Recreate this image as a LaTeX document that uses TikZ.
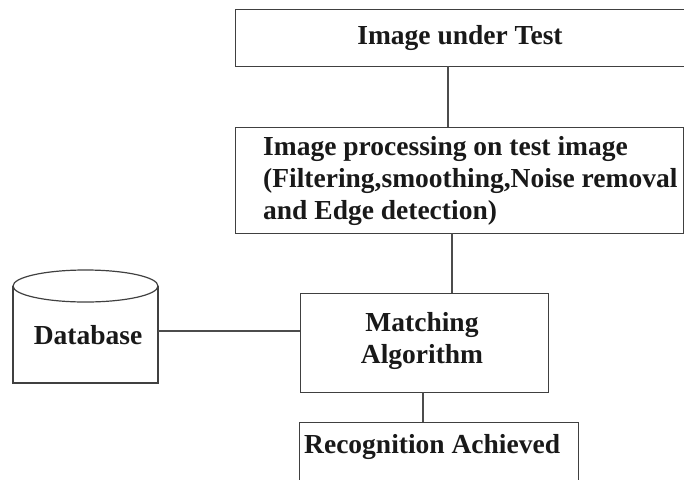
\documentclass[tikz,border=0pt]{standalone}
\usepackage{fontspec}
\setmainfont{Liberation Serif}
\begin{document}
\begin{tikzpicture}[x=1pt,y=-1pt,
  box/.style={draw=black!75,line width=1.2pt,rectangle,inner sep=0pt,anchor=north west},
  lbl/.style={font=\fontsize{27.5}{32}\selectfont\bfseries,text=black!90,inner sep=0pt},
  conn/.style={draw=black!70,line width=1.2pt}]
\useasboundingbox (0,0) rectangle (684,479);
\clip (0,0) rectangle (684,479);
% boxes
\node[box,minimum width=452pt,minimum height=57pt] (top) at (235,9) {};
\node[lbl] (toptxt) at (460,38) {Image under Test};
\node[box,minimum width=448pt,minimum height=106pt] (proc) at (235,127) {};
\node[lbl,anchor=west,align=left] (proctxt) at (263,181) {Image processing on test image\\(Filtering,smoothing,Noise removal\\and Edge detection)};
\node[box,minimum width=248pt,minimum height=99pt] (match) at (300,293) {};
\node[lbl,align=center] (matchtxt) at (422,341) {Matching\\Algorithm};
\node[box,minimum width=279pt,minimum height=80pt] (rec) at (299,422) {};
\node[lbl,anchor=west] (rectxt) at (304,447) {Recognition Achieved};
% database cylinder
\draw[draw=black!75,line width=1.2pt] (13,286) -- (13,383) -- (158,383) -- (158,286);
\draw[draw=black!75,line width=1.2pt] (85.5,286) ellipse [x radius=72.5, y radius=16];
\node[inner sep=0pt,minimum width=145pt,minimum height=80pt] (db) at (85.5,334) {};
\node[lbl] (dbtxt) at (88,335) {Database};
% connectors
\coordinate (c1) at (448,66);
\draw[conn] (c1) -- (c1 |- proc.north);
\coordinate (c2) at (452,233);
\draw[conn] (c2) -- (c2 |- match.north);
\coordinate (c3) at (423,392);
\draw[conn] (c3) -- (c3 |- rec.north);
\draw[conn] (db.east |- 0,331) -- (match.west |- 0,331);
\end{tikzpicture}
\end{document}
